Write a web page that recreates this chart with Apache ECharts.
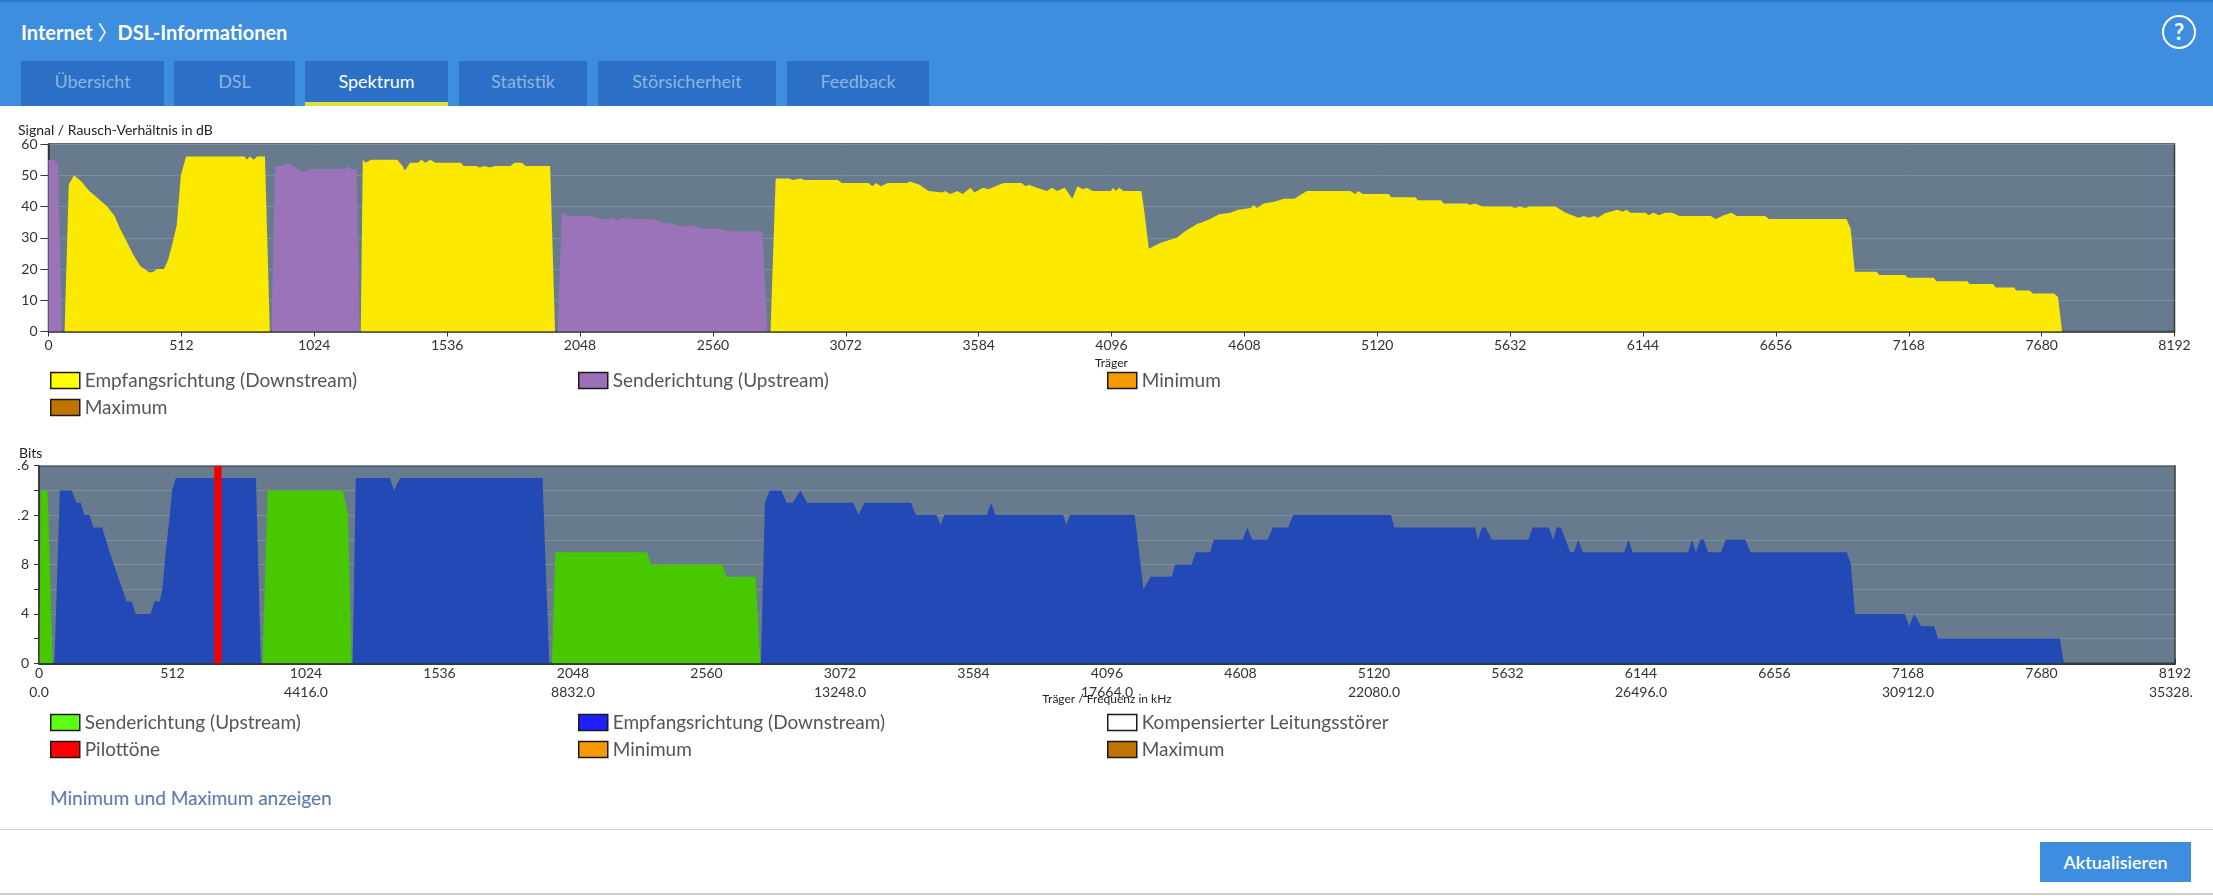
<!DOCTYPE html>
<html>
<head>
<meta charset="utf-8">
<script src="https://cdn.jsdelivr.net/npm/echarts@6/dist/echarts.min.js"></script>
<style>
  html, body { margin:0; padding:0; }
  body { width:2213px; height:896px; position:relative; overflow:hidden; background:#fff; font-family:Lato, "Open Sans", sans-serif; }
  #header { position:absolute; left:0; top:0; width:2213px; height:106px; background:#3e8ee0; border-top:2px solid #2b79cf; box-sizing:border-box; }
  #pageTitle { position:absolute; left:21px; top:17px; color:#fff; font-size:20px; font-weight:700; line-height:26px; white-space:nowrap; }
  #pageTitle .sep { font-family:"Noto Sans CJK JP", "DejaVu Sans", sans-serif; font-weight:400; }
  #help { position:absolute; left:2162px; top:13px; width:30px; height:30px; border:2.5px solid #fff; border-radius:50%; color:#fff; font-weight:700; font-size:22px; line-height:30px; text-align:center; }
  .tab { position:absolute; top:61px; height:45px; background:#2b6fc6; color:#8fb3e2; font-size:18px; line-height:40px; text-align:center; box-sizing:border-box; }
  .tab.active { color:#fff; border-bottom:4px solid #dbe23e; line-height:40px; }
  #chart1 { position:absolute; left:0; top:115px; width:2213px; height:305px; }
  #chart2 { position:absolute; left:18px; top:440px; width:2175px; height:330px; }
  #mmLink { position:absolute; left:50px; top:785px; color:#5876a9; font-size:19px; line-height:26px; white-space:nowrap; }
  #footLine { position:absolute; left:0; top:829px; width:2213px; height:1px; background:#d4d4d4; }
  #btn { position:absolute; left:2040px; top:842px; width:151px; height:40px; background:#3e8ee0; color:#fff; font-size:18px; font-weight:600; line-height:40px; text-align:center; }
  #bottomLine { position:absolute; left:0; top:893px; width:2213px; height:2px; background:#cfcfcf; }
</style>
</head>
<body>
<div id="header">
  <div id="pageTitle">Internet <span class="sep">〉</span>DSL-Informationen</div>
  <div id="help">?</div>
</div>
<div id="tabs"></div>
<div id="chart1"></div>
<div id="chart2"></div>
<div id="mmLink">Minimum und Maximum anzeigen</div>
<div id="footLine"></div>
<div id="btn">Aktualisieren</div>
<div id="bottomLine"></div>
<script>
// ---------- data ----------
const tabNames = ['Übersicht', 'DSL', 'Spektrum', 'Statistik', 'Störsicherheit', 'Feedback'];
const activeTab = 'Spektrum';

const carrierMax = 8192;
const carrierTickStep = 512;
const freqTickStep = 1024;
const freqTickLabels = ['0.0', '4416.0', '8832.0', '13248.0', '17664.0', '22080.0', '26496.0', '30912.0', '35328.0'];
const snrTickLabels = ['0', '10', '20', '30', '40', '50', '60'];
const bitsTickLabels = ['0', '4', '8', '12', '16'];

// Signal/Rausch-Verhältnis (dB) – [Träger, Wert]
const snrUpstream = [
  [0,55],[22,55],[28,54],[36,54],[52,0],
  [859,0],[873,53],[903,53],[922,54],[952,52.5],[981,51],[1010,52],[1144,52],[1154,53],[1167,52],[1187,52],[1199,0],
  [1962,0],[1978,38],[2001,37],[2090,37],[2109,36.5],[2129,36],[2158,36],[2168,36.5],[2188,35.5],[2217,36.5],[2247,36],
  [2325,36],[2364,35],[2404,34.5],[2423,34],[2443,33.5],[2482,34],[2511,33],[2580,33],[2600,32.5],[2619,32],[2629,32.5],
  [2639,32],[2751,32],[2770,0]
];
const snrDownstream = [
  [62,0],[78,47],[98,50],[127,48],[157,45],[186,43],[226,40],[255,37],[275,33],[294,30],[324,25],[353,21],[387,19],
  [402,19],[418,20],[445,20],[461,23],[477,28],[494,34],[510,50],[530,56],[755,56],[765,55],[775,56],[791,55],[804,56],
  [834,56],[853,0],
  [1203,0],[1211,55],[1222,54],[1242,55],[1344,55],[1364,53],[1373,51.5],[1393,54],[1422,54],[1438,55],[1452,54],
  [1471,55],[1491,54],[1589,54],[1599,53],[1648,53],[1662,52.5],[1678,53],[1701,52.5],[1721,53],[1780,53],[1795,54],
  [1825,54],[1838,53],[1933,53],[1952,0],
  [2782,0],[2802,49],[2855,49],[2868,48.5],[2898,49],[2914,48.5],[3041,48.5],[3057,47.5],[3159,47.5],[3175,46.5],
  [3189,47.5],[3208,46.5],[3234,47.5],[3307,47.5],[3320,48],[3356,47],[3391,45],[3444,44.5],[3454,45],[3474,44],
  [3503,45],[3523,44],[3552,46],[3568,44.5],[3601,46],[3621,45.5],[3680,47.5],[3749,47.5],[3765,46.5],[3778,47],
  [3808,46],[3847,45],[3867,46],[3886,45],[3916,46],[3945,42.5],[3965,46.5],[3985,45.5],[4000,46],[4024,45],[4093,45],
  [4103,46],[4112,45],[4126,46],[4142,45],[4211,45],[4220,40],[4240,26.5],[4264,27.5],[4289,28.5],[4328,29.5],[4348,30],
  [4378,32],[4397,33],[4427,34.5],[4446,35],[4476,36],[4511,37.5],[4554,38],[4584,39],[4633,39.5],[4643,40.5],[4657,39.5],
  [4682,41],[4722,41.5],[4761,42.5],[4800,42.5],[4849,45],[5016,45],[5036,44],[5046,45],[5065,44],[5164,44],[5173,43],
  [5267,43],[5277,42],[5366,42],[5376,41],[5466,41],[5476,40.5],[5496,41],[5526,40],[5636,40],[5650,39.5],[5670,40],
  [5690,39.5],[5706,40],[5806,40],[5846,38],[5896,36.4],[5916,37],[5936,36.4],[5956,37],[5970,36.4],[5995,37.8],
  [6045,39],[6065,38.3],[6081,39],[6095,38],[6155,38],[6165,37.2],[6185,38],[6205,37.2],[6229,38],[6255,38],[6285,37],
  [6405,37],[6425,36],[6455,37.2],[6485,38],[6505,37],[6615,37],[6629,36],[6928,36],[6944,33],[6960,19.1],[7044,19.1],
  [7054,18.1],[7154,18.1],[7164,17.2],[7264,17.2],[7274,16.1],[7393,16.1],[7403,15.2],[7493,15.2],[7503,14.1],
  [7573,14.1],[7583,13.1],[7633,13.1],[7647,12.2],[7727,12.2],[7743,11.1],[7759,0]
];

// Bits pro Träger – [Träger, Wert]
const bitsUpstream = [
  [2,0],[6,14],[33,14],[53,0],
  [857,0],[877,14],[1166,14],[1185,12],[1199,0],
  [1967,0],[1980,9],[2332,9],[2347,8],[2621,8],[2636,7],[2748,7],[2767,0]
];
const bitsDownstream = [
  [59,0],[80,14],[125,14],[144,13],[160,13],[174,12],[193,12],[209,11],[242,11],[271,9],[287,8],[303,7],[320,6],
  [336,5],[355,5],[371,4],[428,4],[443,5],[463,5],[473,6],[486,9],[502,12],[510,14],[525,15],[832,15],[851,0],
  [1203,0],[1215,15],[1346,15],[1361,14],[1385,15],[1931,15],[1957,0],
  [2769,0],[2784,13],[2802,14],[2847,14],[2867,13],[2891,13],[2920,14],[2946,13],[3123,13],[3143,12],[3166,13],
  [3344,13],[3363,12],[3442,12],[3458,11.2],[3472,12],[3635,12],[3651,13],[3669,12],[3928,12],[3940,11.2],[3954,12],
  [4202,12],[4236,6],[4263,7],[4344,7],[4358,8],[4421,8],[4436,9],[4492,9],[4505,10],[4616,10],[4634,11],[4653,10],
  [4712,10],[4732,11],[4791,11],[4810,12],[5185,12],[5198,11],[5508,11],[5518,10],[5534,11],[5548,11],[5572,10],
  [5712,10],[5728,11],[5791,11],[5807,10],[5821,11],[5837,11],[5873,9],[5887,9],[5903,10],[5921,9],[6080,9],
  [6096,10],[6112,9],[6325,9],[6339,10],[6355,9],[6371,10],[6385,10],[6401,9],[6451,9],[6469,10],[6544,10],[6564,9],
  [6933,9],[6949,8],[6965,4],[7156,4],[7172,3],[7192,4],[7218,3],[7268,3],[7283,2],[7750,2],[7766,0]
];
const pilotToneCarriers = [672, 700];
const pilotToneBits = 16;

// ---------- page chrome ----------
const tabBoxes = [[21,143],[174,121],[305,143],[459,128],[598,178],[787,142]];
const tabsEl = document.getElementById('tabs');
tabNames.forEach((t, i) => {
  const d = document.createElement('div');
  d.className = 'tab' + (t === activeTab ? ' active' : '');
  d.style.left = tabBoxes[i][0] + 'px';
  d.style.width = tabBoxes[i][1] + 'px';
  d.textContent = t;
  tabsEl.appendChild(d);
});

// ---------- charts ----------
const FONT = 'Lato, "Open Sans", sans-serif';
const PLOT_BG = '#677a8e';
const GRID_LINE = '#7c8fa3';

function area(name, data, color) {
  return { type:'line', name, data, symbol:'none', showSymbol:false, silent:true,
    lineStyle:{ width:0, color }, itemStyle:{ color }, areaStyle:{ color, opacity:1 } };
}
function emptySeries(name, color) {
  return { type:'line', name, data:[], symbol:'none', itemStyle:{ color }, lineStyle:{ color } };
}
function legendAt(name, color, left, top) {
  return { show:true, left, top, padding:0, icon:'rect', itemWidth:29, itemHeight:16, selectedMode:false,
    itemStyle:{ borderColor:'#1a1a1a', borderWidth:1.5 },
    textStyle:{ fontSize:19, color:'#555', fontFamily:FONT },
    data:[{ name, itemStyle:{ color, borderColor:'#1a1a1a', borderWidth:1.5 } }] };
}
const plainNum = (v) => String(v);

const c1 = echarts.init(document.getElementById('chart1'), null, { renderer:'canvas' });
c1.setOption({
  animation:false,
  textStyle:{ fontFamily:FONT },
  graphic:[{ type:'text', left:18, top:8, style:{ text:'Signal / Rausch-Verhältnis in dB', fontSize:14, fill:'#222', fontFamily:FONT } }],
  grid:{ left:48.5, top:29, width:2126, height:187.5, outerBoundsMode:'none', containLabel:false, show:true, backgroundColor:PLOT_BG, borderColor:'#3a3a3a', borderWidth:1.5 },
  xAxis:{ type:'value', min:0, max:carrierMax, interval:carrierTickStep,
    axisLine:{ show:true, lineStyle:{ color:'#333', width:1.5 } },
    axisTick:{ show:true, length:5, lineStyle:{ color:'#333' } },
    axisLabel:{ fontSize:14, color:'#333', margin:7, fontFamily:FONT, formatter:plainNum },
    splitLine:{ show:false },
    name:'Träger', nameLocation:'middle', nameGap:18, nameTextStyle:{ fontSize:12, color:'#222', fontFamily:FONT, verticalAlign:'top' } },
  yAxis:{ type:'value', min:0, max:60, interval:10,
    axisLine:{ show:true, lineStyle:{ color:'#333', width:1.5 } },
    axisTick:{ show:true, length:8, lineStyle:{ color:'#333' } },
    axisLabel:{ fontSize:14, color:'#333', margin:11, fontFamily:FONT,
      formatter:(v) => snrTickLabels[Math.round(v / 10)] ?? '' },
    splitLine:{ show:true, lineStyle:{ color:GRID_LINE, width:1 } } },
  legend:[
    legendAt('Empfangsrichtung (Downstream)', '#ffff00', 50, 256),
    legendAt('Senderichtung (Upstream)', '#9b70b9', 578, 256),
    legendAt('Minimum', '#f59a00', 1107, 256),
    legendAt('Maximum', '#c07400', 50, 283)
  ],
  series:[
    area('Empfangsrichtung (Downstream)', snrDownstream, '#fbe900'),
    area('Senderichtung (Upstream)', snrUpstream, '#9b73b9'),
    emptySeries('Minimum', '#f59a00'),
    emptySeries('Maximum', '#c07400')
  ]
});

const pilotData = [[pilotToneCarriers[0], 0], [pilotToneCarriers[0], pilotToneBits], [pilotToneCarriers[1], pilotToneBits], [pilotToneCarriers[1], 0]];

const c2 = echarts.init(document.getElementById('chart2'), null, { renderer:'canvas' });
c2.setOption({
  animation:false,
  textStyle:{ fontFamily:FONT },
  graphic:[{ type:'text', left:1, top:6, style:{ text:'Bits', fontSize:14, fill:'#222', fontFamily:FONT } }],
  grid:{ left:21, top:25.7, width:2136, height:197.6, outerBoundsMode:'none', containLabel:false, show:true, backgroundColor:PLOT_BG, borderColor:'#3a3a3a', borderWidth:1.5 },
  xAxis:[
    { type:'value', min:0, max:carrierMax, interval:carrierTickStep, position:'bottom',
      axisLine:{ show:true, lineStyle:{ color:'#2d3f38', width:2 } },
      axisTick:{ show:true, inside:true, length:4, lineStyle:{ color:'#333' } },
      axisLabel:{ fontSize:14, color:'#333', margin:3, fontFamily:FONT, formatter:plainNum },
      splitLine:{ show:false },
      name:'Träger / Frequenz in kHz', nameLocation:'middle', nameGap:30,
      nameTextStyle:{ fontSize:12, color:'#222', fontFamily:FONT, verticalAlign:'top' } },
    { type:'value', min:0, max:carrierMax, interval:freqTickStep, position:'bottom', offset:19,
      axisLine:{ show:false }, axisTick:{ show:false }, splitLine:{ show:false },
      axisLabel:{ fontSize:14, color:'#333', margin:3, fontFamily:FONT,
        formatter:(v) => freqTickLabels[Math.round(v / freqTickStep)] ?? '' } }
  ],
  yAxis:{ type:'value', min:0, max:16, interval:2,
    axisLine:{ show:true, lineStyle:{ color:'#333', width:1.5 } },
    axisTick:{ show:true, length:5, lineStyle:{ color:'#333' } },
    axisLabel:{ fontSize:14, color:'#333', margin:10, fontFamily:FONT,
      formatter:(v) => (v % 4 === 0 ? (bitsTickLabels[v / 4] ?? '') : '') },
    splitLine:{ show:true, lineStyle:{ color:GRID_LINE, width:1 } } },
  legend:[
    legendAt('Senderichtung (Upstream)', '#5cff14', 32, 273),
    legendAt('Empfangsrichtung (Downstream)', '#2020ff', 560, 273),
    legendAt('Kompensierter Leitungsstörer', '#ffffff', 1089, 273),
    legendAt('Pilottöne', '#ff0000', 32, 300),
    legendAt('Minimum', '#f59a00', 560, 300),
    legendAt('Maximum', '#c07400', 1089, 300)
  ],
  series:[
    area('Senderichtung (Upstream)', bitsUpstream, '#48c800'),
    area('Empfangsrichtung (Downstream)', bitsDownstream, '#2249b6'),
    emptySeries('Kompensierter Leitungsstörer', '#ffffff'),
    area('Pilottöne', pilotData, '#f20000'),
    emptySeries('Minimum', '#f59a00'),
    emptySeries('Maximum', '#c07400')
  ]
});
</script>
</body>
</html>
